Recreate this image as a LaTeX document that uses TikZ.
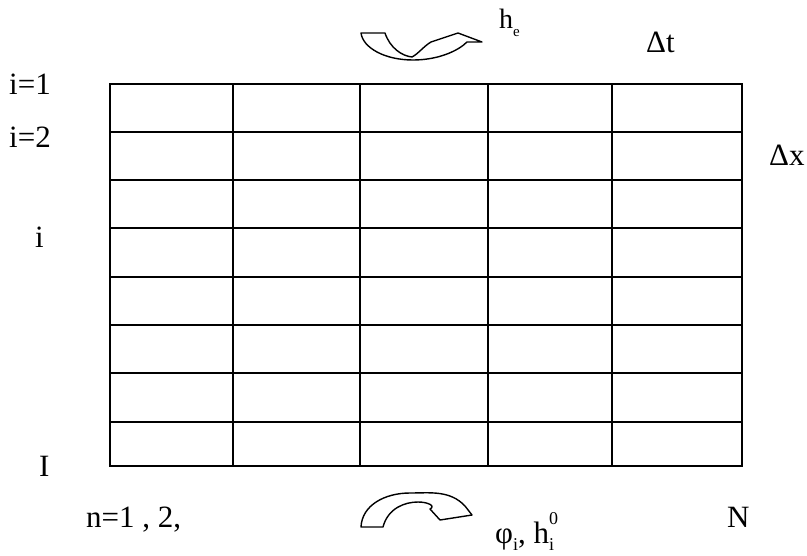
\documentclass[tikz,border=0pt]{standalone}
\usepackage{fontspec}
\setmainfont{Liberation Serif}
\newcommand{\szA}{\fontsize{31}{31}\selectfont}
\newcommand{\szB}{\fontsize{18}{18}\selectfont}
\begin{document}
\begin{tikzpicture}[x=1pt,y=-1pt,
  gridline/.style={line width=1.8pt},
  frameline/.style={line width=2.3pt},
  lbl/.style={anchor=base west,inner sep=0pt,font=\szA},
  bigarrow/.style={draw=black,fill=white,line width=1.4pt,line join=round}]
\useasboundingbox (0,0) rectangle (807,555);
% horizontal grid lines
\foreach \y in {132,180,228,277,325,373,422}
  \draw[gridline] (110,\y) -- (742,\y);
% vertical grid lines
\foreach \x in {233,360,488,612}
  \draw[gridline] (\x,84) -- (\x,466);
\draw[frameline] (110,84) rectangle (742,466);
% top curved arrow
\draw[bigarrow] (361,33) -- (385,33)
  .. controls (390,48) and (402,56) .. (412,57)
  .. controls (418,54) and (424,46) .. (431,42)
  -- (458,33) -- (482,42) -- (467,42)
  .. controls (458,51) and (438,60) .. (413,60)
  .. controls (385,60) and (363,48) .. (361,33) -- cycle;
% bottom curved arrow
\draw[bigarrow] (361,527) -- (383,527)
  .. controls (388,508) and (405,502) .. (418,502)
  .. controls (428,502) and (436,506) .. (430,509)
  -- (440,520) -- (472,515) -- (465,506)
  .. controls (450,490) and (430,493) .. (410,493)
  .. controls (385,493) and (362,505) .. (361,527) -- cycle;
% labels
\node[lbl] (i1) at (9,94) {i=1};
\node[lbl] (i2) at (9,147) {i=2};
\node[lbl] (ii) at (35,247) {i};
\node[lbl] (iI) at (39,476) {I};
\node[lbl] (n12) at (86,527) {n=1 , 2,};
\node[lbl] (NN) at (727,527) {N};
\node[lbl] (dt) at (646,52) {Δt};
\node[lbl] (dx) at (769,165) {Δx};
\node[lbl,font=\fontsize{28}{28}\selectfont] (he) at (499,28) {h\raisebox{-0.3em}{\fontsize{15}{15}\selectfont e}};
\node[lbl] (phih) at (495,543) {φ\raisebox{-0.25em}{\szB i}, h\rlap{\raisebox{0.6em}{\szB 0}}\raisebox{-0.25em}{\szB i}};
\end{tikzpicture}
\end{document}
